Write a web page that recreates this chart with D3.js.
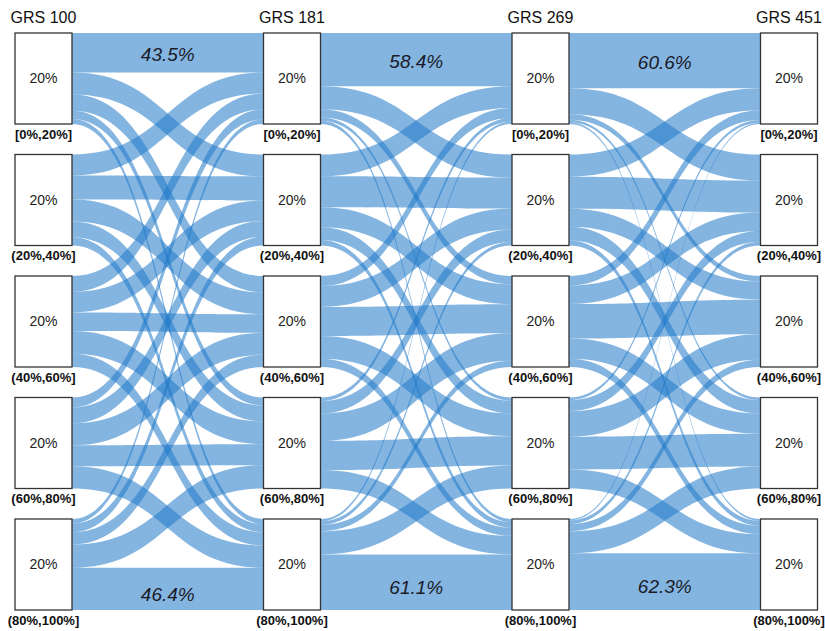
<!DOCTYPE html>
<html>
<head>
<meta charset="utf-8">
<script src="https://cdn.jsdelivr.net/npm/d3@7"></script>
<style>
  html, body { margin: 0; padding: 0; background: #fff; }
  svg { display: block; }
  text { font-family: "Liberation Sans", Arial, Helvetica, sans-serif; }
</style>
</head>
<body>
<svg id="chart" width="825" height="631"></svg>
<script>
// Survey waves (columns) and income quintile groups (rows)
const stages = ["GRS 100", "GRS 181", "GRS 269", "GRS 451"];
const groups = ["[0%,20%]", "(20%,40%]", "(40%,60%]", "(60%,80%]", "(80%,100%]"];
// Share of the population in each group (%)
const shares = [20, 20, 20, 20, 20];

// Transition percentages: row = group at earlier wave, column = group at next wave
const flow100to181 = [
  [43.5, 24.0, 18.0,  8.9,  5.6],
  [23.0, 26.5, 24.0, 17.5,  9.0],
  [17.5, 22.5, 20.5, 25.0, 14.5],
  [11.0, 17.5, 24.0, 23.0, 24.5],
  [ 5.0,  9.5, 13.5, 25.6, 46.4]
];
const flow181to269 = [
  [58.4, 25.4,  9.0,  3.6,  3.6],
  [24.0, 34.0, 22.0, 14.0,  6.0],
  [11.0, 23.0, 32.0, 25.0,  9.0],
  [ 4.1, 13.6, 30.0, 32.0, 20.3],
  [ 2.5,  4.0,  7.0, 25.4, 61.1]
];
const flow269to451 = [
  [60.6, 28.6,  6.0,  2.8,  2.0],
  [24.4, 35.1, 20.0, 15.0,  5.5],
  [10.5, 20.3, 38.0, 22.0,  9.2],
  [ 3.0, 12.0, 28.0, 36.0, 21.0],
  [ 1.5,  4.0,  8.0, 24.2, 62.3]
];
const transitions = [flow100to181, flow181to269, flow269to451];

const svg = d3.select("#chart");
const boxW = 57;

const x = d3.scalePoint().domain(stages).range([15, 760.5]);
const y = d3.scaleBand().domain(groups).range([33, 610]).paddingInner(0.251);
const h = d3.scaleLinear().domain([0, 20]).range([0, y.bandwidth()]);

// Build ribbons for each pair of consecutive waves
const links = [];
transitions.forEach((m, s) => {
  const srcOff = groups.map(g => y(g));
  const tgtOff = groups.map(g => y(g));
  m.forEach((row, i) => {
    row.forEach((pct, j) => {
      const t = h(shares[i] * pct / 100);
      links.push({
        s, i, j, pct,
        x0: x(stages[s]) + boxW,
        x1: x(stages[s + 1]),
        sy0: srcOff[i], sy1: srcOff[i] + t,
        ty0: tgtOff[j], ty1: tgtOff[j] + t
      });
      srcOff[i] += t;
      tgtOff[j] += t;
    });
  });
});

function ribbon(d) {
  const xm = (d.x0 + d.x1) / 2;
  const p = d3.path();
  p.moveTo(d.x0, d.sy0);
  p.bezierCurveTo(xm, d.sy0, xm, d.ty0, d.x1, d.ty0);
  p.lineTo(d.x1, d.ty1);
  p.bezierCurveTo(xm, d.ty1, xm, d.sy1, d.x0, d.sy1);
  p.closePath();
  return p.toString();
}

svg.append("g")
  .selectAll("path")
  .data(links)
  .join("path")
  .attr("d", ribbon)
  .attr("fill", "#1f78c8")
  .attr("fill-opacity", 0.55);

// Group boxes
const nodes = [];
stages.forEach(st => groups.forEach((g, k) => nodes.push({ st, g, share: shares[k] })));

const ng = svg.append("g");
ng.selectAll("rect")
  .data(nodes)
  .join("rect")
  .attr("x", d => x(d.st))
  .attr("y", d => y(d.g))
  .attr("width", boxW)
  .attr("height", d => h(d.share))
  .attr("fill", "#fff")
  .attr("stroke", "#333")
  .attr("stroke-width", 1.3);

ng.selectAll("text.share")
  .data(nodes)
  .join("text")
  .attr("class", "share")
  .attr("x", d => x(d.st) + boxW / 2)
  .attr("y", d => y(d.g) + h(d.share) / 2)
  .attr("dy", "0.35em")
  .attr("text-anchor", "middle")
  .attr("font-size", 14)
  .attr("fill", "#222")
  .text(d => d.share + "%");

ng.selectAll("text.group")
  .data(nodes)
  .join("text")
  .attr("class", "group")
  .attr("x", d => x(d.st) + boxW / 2)
  .attr("y", d => y(d.g) + h(d.share) + 14.5)
  .attr("text-anchor", "middle")
  .attr("font-size", 13)
  .attr("font-weight", "bold")
  .attr("fill", "#111")
  .text(d => d.g);

// Wave titles
svg.append("g")
  .selectAll("text")
  .data(stages)
  .join("text")
  .attr("x", d => x(d) + boxW / 2)
  .attr("y", 23)
  .attr("text-anchor", "middle")
  .attr("font-size", 16)
  .attr("fill", "#111")
  .text(d => d);

// Persistence labels on the top-to-top and bottom-to-bottom ribbons
const stay = links.filter(d => (d.i === 0 && d.j === 0) || (d.i === 4 && d.j === 4));
svg.append("g")
  .selectAll("text")
  .data(stay)
  .join("text")
  .attr("x", d => (d.x0 + d.x1) / 2)
  .attr("y", d => (d.sy0 + d.sy1) / 2 + (d.i === 0 ? 2 : 5))
  .attr("dy", "0.35em")
  .attr("text-anchor", "middle")
  .attr("font-size", 19)
  .attr("font-style", "italic")
  .attr("fill", "#1a1a28")
  .text(d => d3.format(".1f")(d.pct) + "%");
</script>
</body>
</html>
